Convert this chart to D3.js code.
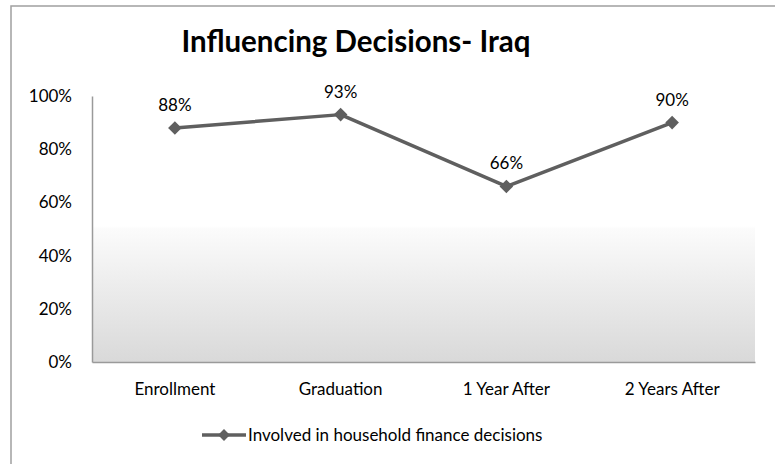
<!DOCTYPE html>
<html><head><meta charset="utf-8">
<script src="https://cdn.jsdelivr.net/npm/d3@7"></script>
<style>html,body{margin:0;padding:0;background:#fff;}svg{display:block;}</style>
</head><body>
<svg id="chart" width="775" height="464"></svg>
<script>
const categories = ["Enrollment", "Graduation", "1 Year After", "2 Years After"];
const seriesName = "Involved in household finance decisions";
const values = [0.88, 0.93, 0.66, 0.90];
const yTicks = [0, 0.2, 0.4, 0.6, 0.8, 1.0];
const title = "Influencing Decisions- Iraq";

const FONT = "Lato, 'Open Sans', sans-serif";
const FS = 17;
const svg = d3.select("#chart");
const W = 775, H = 464;
const m = {left: 92, right: 20, top: 96, bottom: 102};
const x = d3.scaleBand().domain(categories).range([m.left, W - m.right]);
const y = d3.scaleLinear().domain([0, 1]).range([H - m.bottom, m.top]);

// outer border
svg.append("rect").attr("x", 11).attr("y", 6).attr("width", 800).attr("height", 500)
  .attr("fill", "#fff").attr("stroke", "#a0a0a0").attr("stroke-width", 1.5);

// gradient
const defs = svg.append("defs");
const g = defs.append("linearGradient").attr("id", "bg").attr("x1", 0).attr("x2", 0).attr("y1", 0).attr("y2", 1);
g.append("stop").attr("offset", "0").attr("stop-color", "#ffffff");
g.append("stop").attr("offset", "0.49").attr("stop-color", "#ffffff");
g.append("stop").attr("offset", "0.5").attr("stop-color", "#fbfbfb");
g.append("stop").attr("offset", "1").attr("stop-color", "#d9d9d9");
svg.append("rect").attr("x", m.left).attr("y", m.top)
  .attr("width", W - m.right - m.left).attr("height", H - m.bottom - m.top)
  .attr("fill", "url(#bg)");

// title
svg.append("text").attr("x", 356).attr("y", 52).attr("text-anchor", "middle")
  .attr("font-family", FONT).attr("font-weight", "bold").attr("font-size", 29.5)
  .attr("fill", "#000").text(title);

// y axis
const yAxis = d3.axisLeft(y).tickValues(yTicks).tickFormat(d3.format(".0%")).tickSize(0).tickPadding(20);
const ya = svg.append("g").attr("transform", `translate(${m.left},0)`).call(yAxis);
ya.select(".domain").attr("stroke", "#9a9a9a").attr("stroke-width", 1.5);
ya.selectAll("text").attr("font-family", FONT).attr("font-size", FS).attr("fill", "#000");

// x axis
const xAxis = d3.axisBottom(x).tickSize(0).tickPadding(21);
const xa = svg.append("g").attr("transform", `translate(0,${H - m.bottom})`).call(xAxis);
xa.select(".domain").attr("stroke", "#9a9a9a").attr("stroke-width", 1.5);
xa.selectAll("text").attr("font-family", FONT).attr("font-size", FS).attr("fill", "#000");

const cx = c => x(c) + x.bandwidth() / 2;
const LINE = "#5f5f5f";
const line = d3.line().x((d, i) => cx(categories[i])).y(d => y(d));
svg.append("path").datum(values).attr("d", line).attr("fill", "none")
  .attr("stroke", LINE).attr("stroke-width", 3.5).attr("stroke-linejoin", "round");

svg.selectAll(".pt").data(values).join("path")
  .attr("d", d3.symbol().type(d3.symbolSquare).size(92))
  .attr("transform", (d, i) => `translate(${cx(categories[i])},${y(d)}) rotate(45)`)
  .attr("fill", LINE);

svg.selectAll(".lbl").data(values).join("text")
  .attr("x", (d, i) => cx(categories[i])).attr("y", d => y(d) - 17)
  .attr("text-anchor", "middle").attr("font-family", FONT).attr("font-size", FS)
  .attr("fill", "#000").text(d => d3.format(".0%")(d));

// legend
const ly = 435;
svg.append("line").attr("x1", 202).attr("x2", 246).attr("y1", ly).attr("y2", ly)
  .attr("stroke", LINE).attr("stroke-width", 3.5);
svg.append("path").attr("d", d3.symbol().type(d3.symbolSquare).size(70))
  .attr("transform", `translate(224,${ly}) rotate(45)`).attr("fill", LINE);
svg.append("text").attr("x", 248).attr("y", ly + 6).attr("font-family", FONT)
  .attr("font-size", FS).attr("fill", "#000").text(seriesName);
</script>
</body></html>
